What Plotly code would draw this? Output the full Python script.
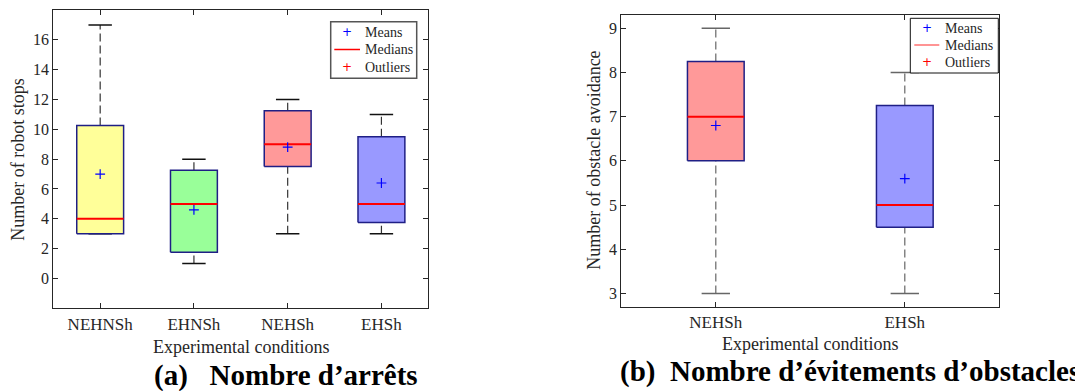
import plotly.graph_objects as go

# The page body has an 8px margin, so the figure is drawn 8px in from the top-left.
OFF = 8
W, H = 1083 - OFF, 391 - OFF

# ---------------- data ----------------
left_categories = ["NEHNSh", "EHNSh", "NEHSh", "EHSh"]
left_q1 = [3, 1.75, 7.5, 3.75]
left_median = [4, 5, 9, 5]
left_q3 = [10.25, 7.25, 11.25, 9.5]
left_low = [3, 1, 3, 3]
left_high = [17, 8, 12, 11]
left_mean = [7, 4.6, 8.8, 6.4]
left_fill = ["#FFFF99", "#99FF99", "#FF9999", "#9999FF"]
left_yticks = [0, 2, 4, 6, 8, 10, 12, 14, 16]

right_categories = ["NEHSh", "EHSh"]
right_q1 = [6, 4.5]
right_median = [7, 5]
right_q3 = [8.25, 7.25]
right_low = [3, 3]
right_high = [9, 8]
right_mean = [6.8, 5.6]
right_fill = ["#FF9999", "#9999FF"]
right_yticks = [3, 4, 5, 6, 7, 8, 9]

legend_names = ["Means", "Medians", "Outliers"]

SERIF = "Liberation Serif"
AXC = "#262626"
NAVY = "#1f1f85"

fig = go.Figure()


def add_panel(cats, q1, med, q3, low, high, mean, fills, xa, ya,
              box_w, whisk_col, cap_col):
    cw = box_w / 2
    for i in range(len(cats)):
        x = i + 1
        # whiskers
        for a, b in ((low[i], q1[i]), (q3[i], high[i])):
            fig.add_trace(go.Scatter(x=[x, x], y=[a, b], mode="lines",
                                     line=dict(color=whisk_col, width=1.2, dash="8px,4px"),
                                     xaxis=xa, yaxis=ya, showlegend=False, hoverinfo="skip"))
        # caps
        for v in (low[i], high[i]):
            fig.add_trace(go.Scatter(x=[x - cw / 2, x + cw / 2], y=[v, v], mode="lines",
                                     line=dict(color=cap_col, width=1.5),
                                     xaxis=xa, yaxis=ya, showlegend=False, hoverinfo="skip"))
        # box
        fig.add_trace(go.Scatter(
            x=[x - box_w / 2, x + box_w / 2, x + box_w / 2, x - box_w / 2, x - box_w / 2],
            y=[q1[i], q1[i], q3[i], q3[i], q1[i]], mode="lines", fill="toself",
            fillcolor=fills[i], line=dict(color=NAVY, width=1.5),
            xaxis=xa, yaxis=ya, showlegend=False, hoverinfo="skip"))
        # median
        fig.add_trace(go.Scatter(x=[x - box_w / 2, x + box_w / 2], y=[med[i], med[i]],
                                 mode="lines", line=dict(color="#FF0000", width=2),
                                 xaxis=xa, yaxis=ya, showlegend=False, hoverinfo="skip"))
    # means
    fig.add_trace(go.Scatter(x=list(range(1, len(cats) + 1)), y=mean, mode="markers",
                             marker=dict(symbol="cross-thin", size=7,
                                         line=dict(color="#0000FF", width=1.2)),
                             name=legend_names[0], xaxis=xa, yaxis=ya, showlegend=False))


add_panel(left_categories, left_q1, left_median, left_q3, left_low, left_high,
          left_mean, left_fill, "x", "y", 0.5, "#333333", "#111111")
add_panel(right_categories, right_q1, right_median, right_q3, right_low, right_high,
          right_mean, right_fill, "x2", "y2", 0.3, "#666666", "#666666")


def px_x(p):
    return (p - OFF) / W


def px_y(p):
    return 1 - (p - OFF) / H


def axis_style(size):
    return dict(showline=True, linecolor=AXC, linewidth=1, mirror="ticks",
                ticks="inside", ticklen=5, tickcolor=AXC, showgrid=False,
                zeroline=False, tickfont=dict(family=SERIF, size=size, color=AXC))


fig.update_layout(
    width=W, height=H, margin=dict(l=0, r=0, t=0, b=0, autoexpand=False),
    paper_bgcolor="white", plot_bgcolor="white", showlegend=False,
    xaxis=dict(domain=[px_x(53.3), px_x(428.3)], range=[0.5, len(left_categories) + 0.5],
               tickvals=list(range(1, len(left_categories) + 1)), ticktext=left_categories,
               anchor="y", **axis_style(17)),
    yaxis=dict(domain=[px_y(308.3), px_y(10)], range=[-2, 18], tickvals=left_yticks,
               anchor="x", **axis_style(16)),
    xaxis2=dict(domain=[px_x(621.3), px_x(999.3)], range=[0.5, len(right_categories) + 0.5],
                tickvals=list(range(1, len(right_categories) + 1)), ticktext=right_categories,
                anchor="y2", **axis_style(17)),
    yaxis2=dict(domain=[px_y(306.7), px_y(15)], range=[2.7, 9.3], tickvals=right_yticks,
                anchor="x2", **axis_style(16)),
)

shapes = []
annotations = []


def add_legend(box, rows, sym_x, line_x, text_x, border_col, border_w, med_col):
    x0, y0, x1, y1 = box
    shapes.append(dict(type="rect", xref="paper", yref="paper",
                       x0=px_x(x0), x1=px_x(x1), y0=px_y(y1), y1=px_y(y0),
                       line=dict(color=border_col, width=border_w), fillcolor="white",
                       layer="above"))
    sym_cols = ["#0000FF", None, "#FF0000"]
    for name, ry, col in zip(legend_names, rows, sym_cols):
        annotations.append(dict(text=name, x=px_x(text_x), y=px_y(ry), xref="paper",
                                yref="paper", xanchor="left", yanchor="middle",
                                showarrow=False,
                                font=dict(family=SERIF, size=14, color=AXC)))
        if col is None:
            shapes.append(dict(type="line", xref="paper", yref="paper",
                               x0=px_x(line_x[0]), x1=px_x(line_x[1]),
                               y0=px_y(ry), y1=px_y(ry),
                               line=dict(color=med_col, width=1.5), layer="above"))
        else:
            annotations.append(dict(text="+", x=px_x(sym_x), y=px_y(ry), xref="paper",
                                    yref="paper", xanchor="center", yanchor="middle",
                                    showarrow=False,
                                    font=dict(family="DejaVu Sans", size=12, color=col)))


add_legend((330.7, 21.7, 416.7, 78.3), (32.3, 49.5, 67.0), 347.3, (334.3, 360.0), 362.5,
           "#555555", 1.5, "#FF0000")
add_legend((910.3, 18.3, 998.3, 73.0), (28.5, 45.0, 62.5), 926.7, (914.3, 939.3), 942.5,
           "#111111", 1, "#FF7070")

ann_font = dict(family=SERIF, size=18, color=AXC)
annotations += [
    dict(text="Experimental conditions", x=px_x(240.8), y=px_y(346.7), xref="paper",
         yref="paper", xanchor="center", yanchor="middle", showarrow=False, font=ann_font),
    dict(text="Number of robot stops", x=px_x(18.3), y=px_y(159.5), xref="paper",
         yref="paper", xanchor="center", yanchor="middle", showarrow=False, textangle=-90,
         font=ann_font),
    dict(text="Experimental conditions", x=px_x(810.3), y=px_y(344.3), xref="paper",
         yref="paper", xanchor="center", yanchor="middle", showarrow=False, font=ann_font),
    dict(text="Number of obstacle avoidance", x=px_x(594), y=px_y(160.8), xref="paper",
         yref="paper", xanchor="center", yanchor="middle", showarrow=False, textangle=-90,
         font=ann_font),
    dict(text="<b>(a)\u00a0\u00a0\u00a0Nombre d\u2019arr\u00eats</b>", x=px_x(151.7), y=px_y(375),
         xref="paper", yref="paper", xanchor="left", yanchor="middle", showarrow=False,
         font=dict(family=SERIF, size=29, color="#000000")),
    dict(text="<b>(b)\u00a0\u00a0Nombre d\u2019\u00e9vitements d\u2019obstacles</b>", x=px_x(618.3),
         y=px_y(371), xref="paper", yref="paper", xanchor="left", yanchor="middle",
         showarrow=False, font=dict(family=SERIF, size=29, color="#000000")),
]
fig.update_layout(shapes=shapes, annotations=annotations)

fig.write_html("out.html")
